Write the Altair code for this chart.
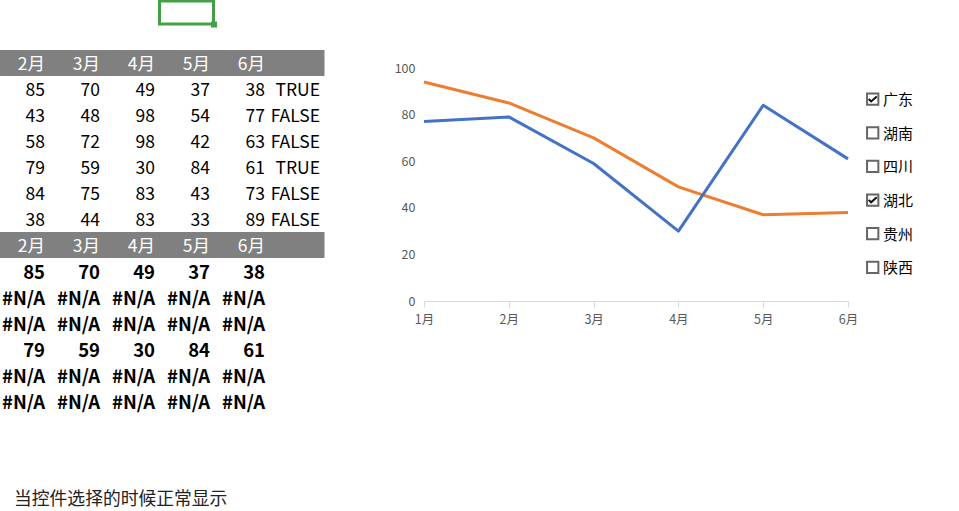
import altair as alt
import pandas as pd

# ---------------- data ----------------
provinces = ["广东", "湖南", "四川", "湖北", "贵州", "陕西"]
months_chart = ["1月", "2月", "3月", "4月", "5月", "6月"]
months_table = ["2月", "3月", "4月", "5月", "6月"]
jan = [94, None, None, 77, None, None]
feb = [85, 43, 58, 79, 84, 38]
mar = [70, 48, 72, 59, 75, 44]
apr = [49, 98, 98, 30, 83, 83]
may = [37, 54, 42, 84, 43, 33]
jun = [38, 77, 63, 61, 73, 89]
checked = [True, False, False, True, False, False]
y_ticks = [0, 20, 40, 60, 80, 100]
note = "当控件选择的时候正常显示"

FONT = "Noto Sans CJK SC"
PL, PT = 424, 68          # plot-area origin on the page
W, H = 424, 233           # plot-area size

# ---------------- line chart ----------------
line_rows = []
for i, p in enumerate(provinces):
    if checked[i]:
        vals = [jan[i], feb[i], mar[i], apr[i], may[i], jun[i]]
        for m, v in zip(months_chart, vals):
            line_rows.append({"province": p, "month": m, "value": v})
line_df = pd.DataFrame(line_rows)

lines = alt.Chart(line_df).mark_line(strokeWidth=3, strokeJoin="round").encode(
    x=alt.X("month:O", sort=months_chart,
            scale=alt.Scale(type="point", padding=0),
            axis=alt.Axis(title=None, labelAngle=0, grid=False,
                          domainColor="#d9d9d9", tickColor="#d9d9d9",
                          tickSize=6, labelPadding=6, labelColor="#595959",
                          labelFont=FONT, labelFontSize=12.5)),
    y=alt.Y("value:Q", scale=alt.Scale(domain=[0, 100], nice=False),
            axis=alt.Axis(title=None, values=y_ticks, domain=False, ticks=False,
                          gridColor="#d9d9d9", labelPadding=9,
                          labelColor="#595959", labelFont=FONT, labelFontSize=12.5)),
    color=alt.Color("province:N",
                    scale=alt.Scale(domain=["广东", "湖北"], range=["#ED7D31", "#4472C4"]),
                    legend=None),
)

# ---------------- spreadsheet table ----------------
tx = alt.Scale(domain=[0, 6], range=[-7 - PL, 323 - PL], zero=False, nice=False)
ty = alt.Scale(domain=[0, 14], range=[50 - PT, 414 - PT], zero=False, nice=False)

band_df = pd.DataFrame({"r": [0, 7]})
bands = alt.Chart(band_df).transform_calculate(
    r2="datum.r + 1", c0="0", c1="6"
).mark_rect(color="#808080", x2Offset=1.5).encode(
    x=alt.X("c0:Q", scale=tx, axis=None),
    x2="c1:Q",
    y=alt.Y("r:Q", scale=ty, axis=None),
    y2="r2:Q",
)

head_rows = []
for r in [0, 7]:
    for k, m in enumerate(months_table):
        head_rows.append({"col": k + 1, "row": r + 0.5, "label": m})
head_df = pd.DataFrame(head_rows)

body_rows, bold_rows = [], []
cols = [feb, mar, apr, may, jun]
for i in range(len(provinces)):
    for k, c in enumerate(cols):
        body_rows.append({"col": k + 1, "row": 1 + i + 0.5, "label": str(c[i])})
        bold_rows.append({"col": k + 1, "row": 8 + i + 0.5,
                          "label": str(c[i]) if checked[i] else "#N/A"})
    body_rows.append({"col": 6, "row": 1 + i + 0.5,
                      "label": "TRUE" if checked[i] else "FALSE"})
body_df = pd.DataFrame(body_rows)
bold_df = pd.DataFrame(bold_rows)


def table_text(df, color, weight, size):
    return alt.Chart(df).mark_text(
        align="right", baseline="middle", dx=-3, dy=2, font=FONT, fontSize=size,
        fontWeight=weight, color=color
    ).encode(
        x=alt.X("col:Q", scale=tx, axis=None),
        y=alt.Y("row:Q", scale=ty, axis=None),
        text="label:N",
    )


head_text = table_text(head_df, "white", "normal", 17.5)
body_text = table_text(body_df, "black", "normal", 17.5)
bold_text = table_text(bold_df, "black", "bold", 18.5)

# selected cell (green frame)
sel_df = pd.DataFrame({"c": [3], "r": [-2]})
sel_box = alt.Chart(sel_df).transform_calculate(
    c2="datum.c + 1", r2="datum.r + 1"
).mark_rect(fillOpacity=0, stroke="#43A047", strokeWidth=3,
            xOffset=1.5, x2Offset=0.5, yOffset=3).encode(
    x=alt.X("c:Q", scale=tx, axis=None), x2="c2:Q",
    y=alt.Y("r:Q", scale=ty, axis=None), y2="r2:Q",
)
sel_handle = alt.Chart(sel_df).transform_calculate(
    c2="datum.c + 1", r2="datum.r + 1"
).mark_square(size=36, color="#43A047", opacity=1, xOffset=1, yOffset=0.5).encode(
    x=alt.X("c2:Q", scale=tx, axis=None),
    y=alt.Y("r2:Q", scale=ty, axis=None),
)

# ---------------- check boxes ----------------
cb_df = pd.DataFrame({"j": list(range(len(provinces))), "province": provinces,
                      "checked": checked})
cy = alt.Scale(domain=[0, 5], range=[99.15 - PT, 267.35 - PT], zero=False, nice=False)
CBX = 872.7 - PL

boxes = alt.Chart(cb_df).mark_point(
    shape="square", filled=False, size=128, color="#666666", strokeWidth=2, opacity=1
).encode(x=alt.value(CBX), y=alt.Y("j:Q", scale=cy, axis=None))

ticks_mark = alt.Chart(cb_df).transform_filter("datum.checked").mark_point(
    shape="M-0.9,-0.05 L-0.35,0.5 L0.9,-0.6", filled=False, size=81,
    color="#111111", strokeWidth=2, opacity=1
).encode(x=alt.value(CBX), y=alt.Y("j:Q", scale=cy, axis=None))

cb_labels = alt.Chart(cb_df).mark_text(
    align="left", baseline="middle", dy=1, font=FONT, fontSize=15, color="black"
).encode(x=alt.value(883 - PL), y=alt.Y("j:Q", scale=cy, axis=None), text="province:N")

# ---------------- note ----------------
note_text = alt.Chart(pd.DataFrame({"t": [note]})).mark_text(
    align="left", baseline="middle", font=FONT, fontSize=17.8, color="#222222"
).encode(x=alt.value(14 - PL), y=alt.value(500 - PT), text="t:N")

chart = alt.layer(
    bands, head_text, body_text, bold_text, sel_box, sel_handle,
    lines, boxes, ticks_mark, cb_labels, note_text
).resolve_scale(
    x="independent", y="independent"
).properties(
    width=W, height=H,
    padding={"left": PL, "top": PT, "right": 959 - PL - W, "bottom": 511 - PT - H},
    autosize=alt.AutoSizeParams(type="none"),
    background="white",
).configure_view(strokeWidth=0)

chart.save("out.html", embed_options={"renderer": "svg", "actions": False})
